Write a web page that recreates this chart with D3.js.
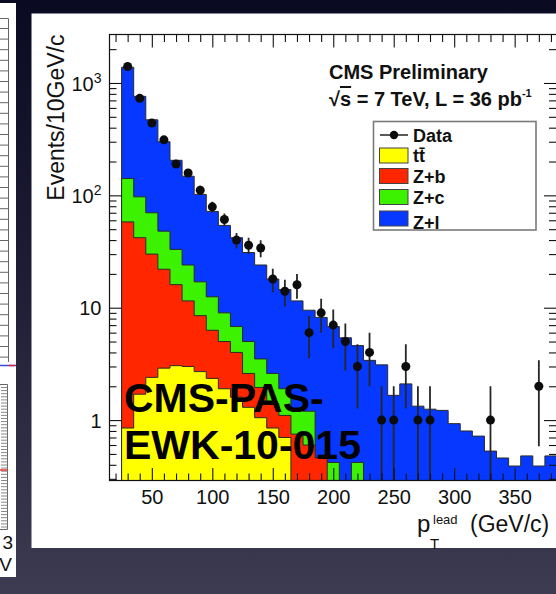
<!DOCTYPE html>
<html>
<head>
<meta charset="utf-8">
<script src="https://cdnjs.cloudflare.com/ajax/libs/d3/7.8.5/d3.min.js"></script>
<style>
  html, body { margin:0; padding:0; background:#1c1c30; overflow:hidden; }
  svg { display:block; }
  text { font-family: "Liberation Sans", Arial, Helvetica, sans-serif; }
</style>
</head>
<body>
<div class="slide"></div>
<script>
// lower edges of the 10 GeV/c bins
var binLow = [25,35,45,55,65,75,85,95,105,115,125,135,145,155,165,175,185,195,
              205,215,225,235,245,255,265,275,285,295,305,315,325,335,345,355,365,375];
var binW = 10;

// observed events per bin
var dataCounts = [1400,730,440,312,190,158,111,79,61,40,36,34,18,14,16,6,9,7,
                  5,3,4,1,1,3,1,1,0,0,0,0,1,0,0,0,2,0];

// simulated processes (stacked, bottom to top)
var ttbar = [0.85,1.7,2.4,2.9,3.05,3.0,2.7,2.35,1.9,1.6,1.3,1.05,0.85,0.7,0.2,0,0,0,
             0,0,0,0,0,0,0,0,0,0,0,0,0,0,0,0,0,0];
var zb    = [57.2,40.3,27.6,19.1,13,8.5,5.8,3.95,3.1,2.4,1.3,0.9,0.55,0.4,0.55,0.6,0.46,0,
             0,0,0,0,0,0,0,0,0,0,0,0,0,0,0,0,0,0];
var zc    = [83,55,40,26,17,12.5,8.5,6.2,4.0,2.8,2.4,1.55,1.2,0.8,0.5,0.6,0,0.42,
             0,0.42,0,0,0,0,0,0,0,0,0,0,0,0,0,0,0,0];
var zl    = [1239,663,400,252,172,124,85,59.5,45,35.2,26,20.5,15.4,12.6,10.25,8.3,7.74,6.38,
             5.4,4.18,3.4,3.1,1.66,2.1,1.33,1.25,1.22,0.93,0.8,0.72,0.53,0.46,0.39,0.48,0.39,0.48];

var processKeys   = ["tt","zb","zc","zl"];
var processColors = ["#ffff00","#ff2600","#3cf200","#0638ff"];
var legendLabels  = ["Data","t\u0074\u0304","Z+b","Z+c","Z+l"];

var xTickLabels = [50,100,150,200,250,300,350];
var yTickLabels = [1,10,100,1000];

var W = 556, H = 594;
var frame = {left:109.5, top:34.5, right:557, bottom:480.5};

var x = d3.scaleLinear().domain([15, 385]).range([frame.left, frame.right]);
var y = d3.scaleLog().domain([0.29, 2700]).range([frame.bottom, frame.top]).clamp(true);

var svg = d3.select(".slide").append("svg")
            .attr("width", W).attr("height", H);

function draw_background() {
    var defs = svg.append("defs");
    var grad = defs.append("linearGradient").attr("id","bg")
                   .attr("x1",0).attr("y1",0).attr("x2",0).attr("y2",1);
    grad.append("stop").attr("offset","0%").attr("stop-color","#0a0a22");
    grad.append("stop").attr("offset","45%").attr("stop-color","#1d1c34");
    grad.append("stop").attr("offset","100%").attr("stop-color","#3c3b52");
    defs.append("clipPath").attr("id","plotclip").append("rect")
        .attr("x",frame.left).attr("y",frame.top)
        .attr("width",frame.right-frame.left).attr("height",frame.bottom-frame.top);
    defs.append("clipPath").attr("id","legclip").append("rect")
        .attr("x",373.5).attr("y",121.5).attr("width",162.5).attr("height",108.5);

    svg.append("rect").attr("width",W).attr("height",H).attr("fill","url(#bg)");
    // main slide panel
    svg.append("rect").attr("x",31.5).attr("y",13.5).attr("width",540).attr("height",534.5)
       .attr("fill","#fff");
}

function draw_side_panel() {
    // remains of the neighbouring figure at the left edge
    var g = svg.append("g").attr("stroke","#666").attr("stroke-width",1).attr("fill","none");
    svg.insert("rect","g").attr("x",-4).attr("y",3).attr("width",20).attr("height",574)
       .attr("fill","#fff");
    g.append("path").attr("d","M0,18.5H8.5V362");
    d3.range(28.5, 362, 10.6).forEach(function(t){
        g.append("line").attr("x1",0).attr("x2",8.5).attr("y1",t).attr("y2",t);
    });
    g.append("line").attr("x1",0).attr("x2",16).attr("y1",365.5).attr("y2",365.5)
     .attr("stroke","#3a4bd8").attr("stroke-width",1.5);
    g.append("line").attr("x1",9).attr("x2",15).attr("y1",365.5).attr("y2",365.5)
     .attr("stroke","#e23").attr("stroke-width",1.5);
    g.append("path").attr("d","M0,384.5H7.5V529.5H0");
    d3.range(387.5, 529, 3.1).forEach(function(t){
        g.append("line").attr("x1",1).attr("x2",7.5).attr("y1",t).attr("y2",t)
         .attr("stroke","#888");
    });
    g.append("line").attr("x1",0).attr("x2",7.5).attr("y1",470).attr("y2",470)
     .attr("stroke","#e33").attr("stroke-width",1.5);
    svg.append("text").attr("x",13).attr("y",549).attr("text-anchor","end")
       .attr("font-size",19).attr("fill","#111").text("3");
    svg.append("text").attr("x",12).attr("y",571).attr("text-anchor","end")
       .attr("font-size",19).attr("fill","#111").text("V");
}

function draw_stack() {
    var rows = binLow.map(function(lo, i) {
        return {lo: lo, tt: ttbar[i], zb: zb[i], zc: zc[i], zl: zl[i]};
    });
    var layers = d3.stack().keys(processKeys)(rows);

    var area = d3.area()
                 .x(function(d){ return x(d[0]); })
                 .y0(frame.bottom + 3)
                 .y1(function(d){ return y(Math.max(d[1], 1e-4)); });

    var g = svg.append("g").attr("clip-path","url(#plotclip)");
    // cumulative histograms, drawn from the top of the stack downwards
    for (var j = layers.length - 1; j >= 0; j--) {
        var pts = [[binLow[0], 1e-4]];
        layers[j].forEach(function(d){
            pts.push([d.data.lo, d[1]]);
            pts.push([d.data.lo + binW, d[1]]);
        });
        pts.push([binLow[binLow.length-1] + binW, 1e-4]);
        g.append("path")
         .attr("d", area(pts))
         .attr("fill", processColors[j])
         .attr("stroke", "#2a2a2a")
         .attr("stroke-width", 1);
    }
    return g;
}

function draw_data(g) {
    var pts = binLow.map(function(lo, i){ return {x: lo + binW/2, n: dataCounts[i]}; })
                    .filter(function(d){ return d.n > 0; });
    g.selectAll(".err").data(pts).enter().append("line")
     .attr("class","err")
     .attr("x1", function(d){ return x(d.x); })
     .attr("x2", function(d){ return x(d.x); })
     .attr("y1", function(d){ return y(d.n + Math.sqrt(d.n)); })
     .attr("y2", function(d){ return y(Math.max(d.n - Math.sqrt(d.n), 1e-4)); })
     .attr("stroke","#262626").attr("stroke-width",1.8);
    g.selectAll(".pt").data(pts).enter().append("circle")
     .attr("class","pt")
     .attr("cx", function(d){ return x(d.x); })
     .attr("cy", function(d){ return y(d.n); })
     .attr("r", 4.5)
     .attr("fill","#0c0c0c");
}

function style_axis(sel) {
    sel.select(".domain").remove();
    sel.selectAll(".tick line").attr("stroke","#111").attr("stroke-width",1.1);
}

function draw_axes() {
    var majorX = xTickLabels;
    var minorX = x.ticks(40).filter(function(t){ return t % 50 !== 0; });
    var minorY = y.ticks().filter(function(t){ return yTickLabels.indexOf(t) < 0; });

    // bottom
    svg.append("g").attr("transform","translate(0,"+frame.bottom+")")
       .call(d3.axisBottom(x).tickValues(minorX).tickSize(-7).tickFormat(""))
       .call(style_axis);
    var bx = svg.append("g").attr("transform","translate(0,"+frame.bottom+")")
       .call(d3.axisBottom(x).tickValues(majorX).tickSize(-12.5).tickPadding(9))
       .call(style_axis);
    bx.selectAll(".tick text").attr("font-size",20).attr("fill","#111")
      .attr("font-family","Liberation Sans, Arial, sans-serif");
    // top
    svg.append("g").attr("transform","translate(0,"+frame.top+")")
       .call(d3.axisTop(x).tickValues(minorX).tickSize(-7.5).tickFormat(""))
       .call(style_axis);
    svg.append("g").attr("transform","translate(0,"+frame.top+")")
       .call(d3.axisTop(x).tickValues(majorX).tickSize(-13).tickFormat(""))
       .call(style_axis);
    // left
    svg.append("g").attr("transform","translate("+frame.left+",0)")
       .call(d3.axisLeft(y).tickValues(minorY).tickSize(-7).tickFormat(""))
       .call(style_axis);
    var ly = svg.append("g").attr("transform","translate("+frame.left+",0)")
       .call(d3.axisLeft(y).tickValues(yTickLabels).tickSize(-12.5).tickPadding(8))
       .call(style_axis);
    ly.selectAll(".tick text").each(function(v){
        var t = d3.select(this).text(null)
                  .attr("font-size",20).attr("fill","#111")
                  .attr("font-family","Liberation Sans, Arial, sans-serif")
                  .attr("dy","0.36em");
        if (v >= 100) {
            t.append("tspan").text("10");
            t.append("tspan").attr("font-size",14).attr("dy","-0.55em")
             .text(String(Math.round(Math.log10(v))));
        } else {
            t.text(String(v));
        }
    });
    // right
    svg.append("g").attr("transform","translate("+frame.right+",0)")
       .call(d3.axisRight(y).tickValues(minorY).tickSize(-8).tickFormat(""))
       .call(style_axis);
    svg.append("g").attr("transform","translate("+frame.right+",0)")
       .call(d3.axisRight(y).tickValues(yTickLabels).tickSize(-13).tickFormat(""))
       .call(style_axis);

    svg.append("rect").attr("x",frame.left).attr("y",frame.top)
       .attr("width",frame.right-frame.left).attr("height",frame.bottom-frame.top)
       .attr("fill","none").attr("stroke","#111").attr("stroke-width",1.2);
}

function draw_legend() {
    var lg = svg.append("g");
    lg.append("rect").attr("x",373.5).attr("y",121.5).attr("width",162.5).attr("height",108.5)
      .attr("fill","#fff").attr("stroke","#7a7a7a").attr("stroke-width",1.6);
    var inner = lg.append("g").attr("clip-path","url(#legclip)");
    var rowY = [135, 155.5, 176, 197, 218.5];
    legendLabels.forEach(function(lab, i){
        var cy = rowY[i];
        if (i === 0) {
            inner.append("line").attr("x1",380).attr("x2",408).attr("y1",cy).attr("y2",cy)
                 .attr("stroke","#222").attr("stroke-width",1.6);
            inner.append("circle").attr("cx",394).attr("cy",cy).attr("r",4.2).attr("fill","#0c0c0c");
        } else {
            inner.append("rect").attr("x",379.5).attr("y",cy-7.5).attr("width",28.5).attr("height",15)
                 .attr("fill",processColors[i-1]).attr("stroke","#444").attr("stroke-width",1);
        }
        inner.append("text").attr("x",413).attr("y",cy + (i === 4 ? 10 : 6.8))
             .attr("font-size",18).attr("font-weight","bold").attr("fill","#111")
             .text(lab);
    });
}

function draw_texts() {
    svg.append("text").attr("x",329).attr("y",79)
       .attr("font-size",20).attr("font-weight","bold").attr("fill","#111")
       .text("CMS Preliminary");
    var t2 = svg.append("text").attr("x",329).attr("y",106)
                .attr("font-size",20).attr("font-weight","bold").attr("fill","#111");
    t2.append("tspan").text("\u221a");
    t2.append("tspan").style("text-decoration","overline").text("s");
    t2.append("tspan").text(" = 7 TeV, L = 36 pb");
    t2.append("tspan").attr("font-size",11).attr("dy",-9).text("-1");

    svg.append("text")
       .attr("transform","translate(64,"+frame.top+") rotate(-90)")
       .attr("text-anchor","end").attr("font-size",23).attr("fill","#111")
       .text("Events/10GeV/c");

    svg.append("text").attr("x",417).attr("y",531.5).attr("font-size",24).attr("fill","#111").text("p");
    svg.append("text").attr("x",433).attr("y",524).attr("font-size",13).attr("fill","#111").text("lead");
    svg.append("text").attr("x",430).attr("y",549).attr("font-size",15).attr("fill","#111").text("T");
    svg.append("text").attr("x",470).attr("y",531.5).attr("font-size",23).attr("fill","#111").text("(GeV/c)");

    svg.append("text").attr("x",124).attr("y",411.5).attr("font-size",41)
       .attr("font-weight","bold").attr("fill","#000").text("CMS-PAS-");
    svg.append("text").attr("x",124).attr("y",459).attr("font-size",41)
       .attr("font-weight","bold").attr("fill","#000").text("EWK-10-015");
}

draw_background();
draw_side_panel();
var plot = draw_stack();
draw_data(plot);
draw_axes();
draw_legend();
draw_texts();
</script>
</body>
</html>
